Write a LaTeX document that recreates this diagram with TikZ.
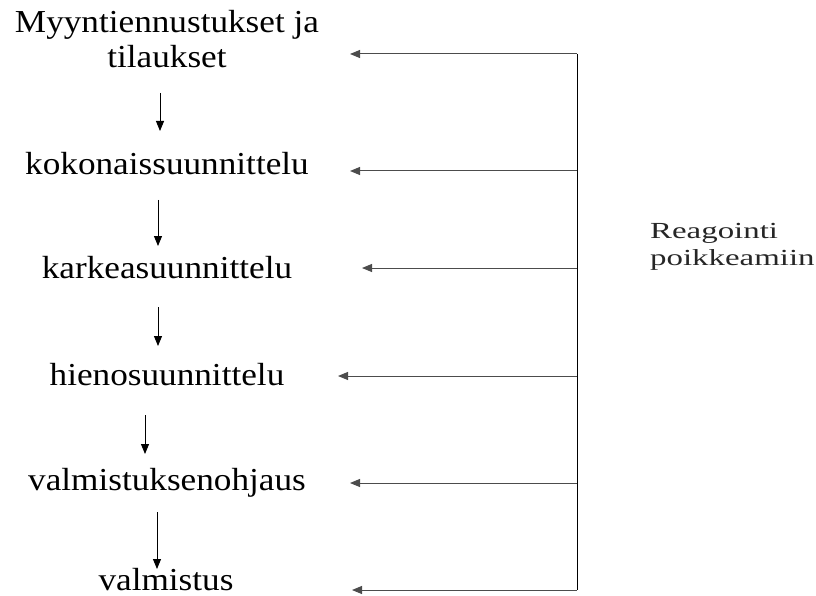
\documentclass[tikz,border=0pt]{standalone}
\usepackage{fontspec}
\setmainfont{Liberation Serif}
\newfontfamily\mainstretch[FakeStretch=1.10]{Liberation Serif}
\newfontfamily\sidestretch[FakeStretch=1.43]{Liberation Serif}
\usetikzlibrary{arrows.meta}
\begin{document}
\begin{tikzpicture}[x=1pt,y=-1pt,
  lbl/.style={anchor=base, inner sep=0pt, text depth=0pt, font=\mainstretch\fontsize{32}{35}\selectfont},
  side/.style={anchor=base west, inner sep=0pt, align=left, font=\sidestretch\fontsize{23}{27}\selectfont, text=black!85},
  down/.style={-{Triangle[length=10pt,width=8pt]}, line width=0.9pt},
  back/.style={-{Triangle[length=10pt,width=8pt]}, line width=1pt, draw=black!70},
  rail/.style={line width=1pt}]
\useasboundingbox (0,0) rectangle (816,596);
% texts
\node[lbl] (n1) at (167,33) {Myyntiennustukset ja};
\node[lbl] (n1b) at (167,68) {tilaukset};
\node[lbl] (n2) at (167,175) {kokonaissuunnittelu};
\node[lbl] (n3) at (167,278) {karkeasuunnittelu};
\node[lbl] (n4) at (167,385) {hienosuunnittelu};
\node[lbl] (n5) at (167,490) {valmistuksenohjaus};
\node[lbl] (n6) at (166,590) {valmistus};
\node[side] (r) at (650,238) {Reagointi};
\node[side] (r2) at (650,265) {poikkeamiin};
% down arrows
\coordinate (d1a) at (160,93);  \coordinate (d1b) at (160,131);
\coordinate (d2a) at (158,200); \coordinate (d2b) at (158,246);
\coordinate (d3a) at (158,307); \coordinate (d3b) at (158,346);
\coordinate (d4a) at (145,415); \coordinate (d4b) at (145,454);
\coordinate (d5a) at (157,512); \coordinate (d5b) at (157,569);
\draw[down] (d1a) -- (d1b);
\draw[down] (d2a) -- (d2b);
\draw[down] (d3a) -- (d3b);
\draw[down] (d4a) -- (d4b);
\draw[down] (d5a) -- (d5b);
% rail
\coordinate (r1) at (577,54);
\coordinate (r2) at (577,171);
\coordinate (r3) at (577,268);
\coordinate (r4) at (577,376);
\coordinate (r5) at (577,483);
\coordinate (r6) at (577,590);
\draw[rail] (r1) -- (r6);
\coordinate (t1) at (350,54);
\coordinate (t2) at (350,171);
\coordinate (t3) at (362,268);
\coordinate (t4) at (338,376);
\coordinate (t5) at (350,483);
\coordinate (t6) at (352,590);
\draw[back] (r1) -- (t1);
\draw[back] (r2) -- (t2);
\draw[back] (r3) -- (t3);
\draw[back] (r4) -- (t4);
\draw[back] (r5) -- (t5);
\draw[back] (r6) -- (t6);
\end{tikzpicture}
\end{document}
